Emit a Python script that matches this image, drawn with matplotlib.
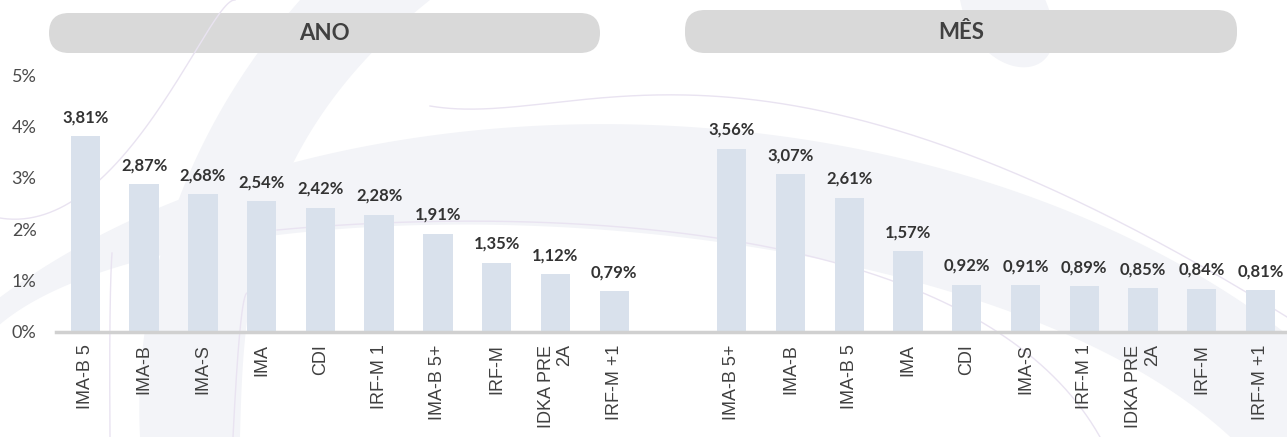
import numpy as np
import matplotlib
matplotlib.use('Agg')
import matplotlib.pyplot as plt
from matplotlib.patches import FancyBboxPatch, Polygon

# chart data
ano_labels = ['IMA-B 5', 'IMA-B', 'IMA-S', 'IMA', 'CDI', 'IRF-M 1', 'IMA-B 5+', 'IRF-M', 'IDKA PRE\n2A', 'IRF-M +1']
ano_values = [3.81, 2.87, 2.68, 2.54, 2.42, 2.28, 1.91, 1.35, 1.12, 0.79]
mes_labels = ['IMA-B 5+', 'IMA-B', 'IMA-B 5', 'IMA', 'CDI', 'IMA-S', 'IRF-M 1', 'IDKA PRE\n2A', 'IRF-M', 'IRF-M +1']
mes_values = [3.56, 3.07, 2.61, 1.57, 0.92, 0.91, 0.89, 0.85, 0.84, 0.81]
panel_titles = ['ANO', 'MÊS']
y_ticks = [0, 1, 2, 3, 4, 5]

bar_color = '#d9e1ec'
text_color = '#404040'
pale = '#f3f4f8'
lavender = '#e9e3f1'

W, H = 1287, 437
fig = plt.figure(figsize=(W / 100, H / 100), dpi=100)

# background layer in pixel coordinates (header pills + faint watermark)
bg = fig.add_axes([0, 0, 1, 1], zorder=0)
bg.set_xlim(0, W)
bg.set_ylim(H, 0)
bg.axis('off')


def smooth(pts, n=200):
    # smooth curve through a few guide points, only for the watermark
    pts = np.array(pts, dtype=float)
    t = np.linspace(0, 1, len(pts))
    tt = np.linspace(0, 1, n)
    deg = min(3, len(pts) - 1)
    x = np.polyval(np.polyfit(t, pts[:, 0], deg), tt)
    y = np.polyval(np.polyfit(t, pts[:, 1], deg), tt)
    return np.column_stack([x, y])


# pale band sweeping across the chart
upper = smooth([(0, 300), (150, 205), (430, 140), (600, 124), (860, 147), (1100, 225), (1287, 335)])
lower = smooth([(1250, 437), (1000, 330), (860, 262), (600, 224), (300, 232), (120, 265), (0, 330)])
bg.add_patch(Polygon(np.vstack([upper, [[1287, 437]], lower]), closed=True,
                     facecolor=pale, edgecolor='none'))
# tall pale swoosh on the left
bg.add_patch(Polygon(np.vstack([smooth([(300, 0), (200, 150), (150, 300), (140, 437)]),
                                smooth([(240, 437), (250, 300), (300, 150), (430, 0)])]),
                     closed=True, facecolor=pale, edgecolor='none'))
# drop at the top right
bg.add_patch(Polygon(smooth([(960, 0), (985, 45), (1025, 75), (1050, 45), (1045, 0)]),
                     closed=True, facecolor=pale, edgecolor='none'))
# thin lavender lines
for pts in [[(430, 106), (600, 98), (860, 120), (1287, 317)],
            [(277, 230), (530, 222), (860, 270), (1100, 437)],
            [(0, 218), (110, 170), (190, 60), (235, 0)],
            [(110, 437), (110, 320), (112, 253)],
            [(233, 437), (240, 330), (247, 293)]]:
    c = smooth(pts)
    bg.plot(c[:, 0], c[:, 1], color=lavender, lw=1)

# header pills
pills = [(49, 13, 551, 40), (685, 10, 552, 43)]
for (x0, y0, w, h), title in zip(pills, panel_titles):
    bg.add_patch(FancyBboxPatch((x0, y0), w, h,
                                boxstyle='round,pad=0,rounding_size=20',
                                facecolor='#d9d9d9', edgecolor='none'))
    bg.text(x0 + w / 2, y0 + h / 2 + 1, title, ha='center', va='center',
            fontsize=16, fontweight='bold', color=text_color, family='Lato')

# main bar axes
ax = fig.add_axes([56 / W, (H - 332) / H, (W - 56) / W, (332 - 75) / H], zorder=1)
ax.patch.set_alpha(0)

pos_ano = np.arange(len(ano_values))
pos_mes = np.arange(len(mes_values)) + len(ano_values) + 1
positions = np.concatenate([pos_ano, pos_mes])
values = ano_values + mes_values
labels = ano_labels + mes_labels

bars = ax.bar(positions, values, width=0.5, color=bar_color, zorder=2)
for b, v in zip(bars, values):
    ax.annotate(f'{v:.2f}%'.replace('.', ','), (b.get_x() + b.get_width() / 2, v),
                xytext=(0, 8), textcoords='offset points', ha='center', va='bottom',
                fontsize=12, fontweight='bold', color='#333333', family='Lato')

ax.set_xlim(-0.5, positions[-1] + 0.45)
ax.set_ylim(0, 5)
ax.set_yticks(y_ticks)
ax.set_yticklabels([f'{t}%' for t in y_ticks], fontsize=13, color='#4a4a4a',
                   family='Lato')
ax.set_xticks(positions)
ax.set_xticklabels(labels, rotation=90, fontsize=13, color=text_color,
                   family='Liberation Sans', linespacing=1.1)
for lab in ax.get_xticklabels():
    lab.set_multialignment('right')
ax.tick_params(axis='both', length=0)
ax.tick_params(axis='x', pad=9)
ax.tick_params(axis='y', pad=14)

for s in ['top', 'right', 'left']:
    ax.spines[s].set_visible(False)
ax.spines['bottom'].set_color('#d0d0d0')
ax.spines['bottom'].set_linewidth(2.5)

fig.savefig('out.png', dpi=100)
